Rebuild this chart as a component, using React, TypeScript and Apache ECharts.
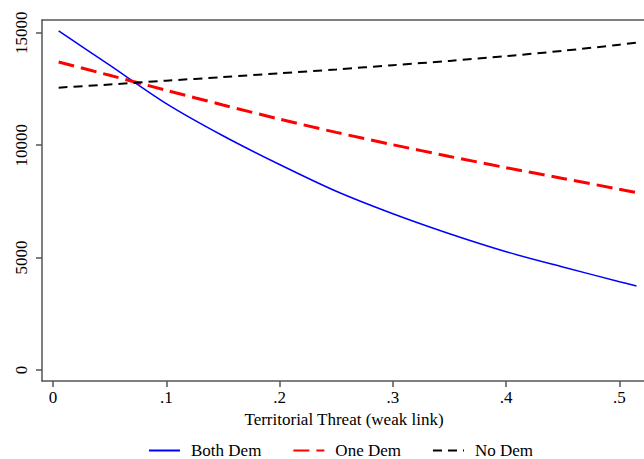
import React, { useEffect, useRef } from "react";
import * as echarts from "echarts";

const threat = [0.005, 0.05, 0.1, 0.15, 0.2, 0.25, 0.3, 0.35, 0.4, 0.45, 0.5, 0.515];
const bothDem = [15090, 13560, 11850, 10420, 9140, 7950, 6950, 6060, 5260, 4580, 3930, 3740];
const oneDem = [13700, 13110, 12440, 11790, 11160, 10570, 10020, 9500, 9000, 8520, 8040, 7890];
const noDem = [12560, 12700, 12870, 13030, 13200, 13370, 13560, 13750, 13960, 14200, 14470, 14560];
const xTicks = [0, 0.1, 0.2, 0.3, 0.4, 0.5];
const yTicks = [0, 5000, 10000, 15000];

const FONT = "'Liberation Serif', 'Times New Roman', serif";
const AXIS = "#555555";

export default function App() {
  const ref = useRef<HTMLDivElement>(null);
  useEffect(() => {
    if (!ref.current) return;
    const chart = echarts.init(ref.current, undefined, { renderer: "svg" });
    const pairs = (ys: number[]) => threat.map((x, i) => [x, ys[i]]);
    chart.setOption({
      animation: false,
      backgroundColor: "#ffffff",
      textStyle: { fontFamily: FONT },
      grid: { left: 42, top: 20, right: -2, bottom: 78, outerBoundsMode: "none", containLabel: false },
      legend: {
        bottom: 0,
        left: 148,
        padding: 0,
        itemWidth: 31,
        itemHeight: 12,
        itemGap: 31,
        itemStyle: { opacity: 0 },
        textStyle: { fontFamily: FONT, fontSize: 17, lineHeight: 16, color: "#000", padding: [0, 0, 0, 6] },
        data: ["Both Dem", "One Dem", "No Dem"],
      },
      xAxis: [
        {
          type: "value",
          min: -0.0097,
          max: 0.5234,
          splitLine: { show: false },
          axisLine: { show: true, onZero: false, lineStyle: { color: AXIS, width: 1.5 } },
          axisTick: { show: true, length: 6, customValues: xTicks, lineStyle: { color: AXIS, width: 1.5 } },
          axisLabel: {
            customValues: xTicks,
            margin: 8,
            fontSize: 17,
            color: "#000",
            fontFamily: FONT,
            formatter: (v: number) => (v === 0 ? "0" : String(Number(v.toFixed(1))).replace(/^0/, "")),
          },
          name: "Territorial Threat (weak link)",
          nameLocation: "middle",
          nameGap: 23,
          nameTextStyle: { fontSize: 17, color: "#000", fontFamily: FONT, verticalAlign: "top" },
        },
        {
          type: "value",
          position: "top",
          min: -0.0097,
          max: 0.5234,
          splitLine: { show: false },
          axisLine: { show: true, onZero: false, lineStyle: { color: AXIS, width: 1.5 } },
          axisTick: { show: false },
          axisLabel: { show: false },
        },
      ],
      yAxis: {
        type: "value",
        min: -489,
        max: 15569,
        splitLine: { show: false },
        axisLine: { show: true, onZero: false, lineStyle: { color: AXIS, width: 1.5 } },
        axisTick: { show: true, length: 6, customValues: yTicks, lineStyle: { color: AXIS, width: 1.5 } },
        axisLabel: { show: false },
      },
      series: [
        {
          name: "Both Dem",
          type: "line",
          data: pairs(bothDem),
          smooth: 0.3,
          symbol: "none",
          color: "#0000ff",
          lineStyle: { color: "#0000ff", width: 1.5, type: "solid" },
        },
        {
          name: "One Dem",
          type: "line",
          data: pairs(oneDem),
          smooth: 0.3,
          symbol: "none",
          color: "#ff0000",
          lineStyle: { color: "#ff0000", width: 3, type: [16, 7] },
        },
        {
          name: "No Dem",
          type: "line",
          data: pairs(noDem),
          smooth: 0.3,
          symbol: "none",
          color: "#000000",
          lineStyle: { color: "#000000", width: 2, type: [9, 6] },
        },
      ],
    });
    // Rotated y-axis tick labels, placed through the y axis scale
    const labels = yTicks.map((v) => {
      const py = chart.convertToPixel({ yAxisIndex: 0 }, v) as number;
      return {
        type: "text",
        x: 21,
        y: py,
        rotation: Math.PI / 2,
        style: {
          text: String(v),
          font: `17px ${FONT}`,
          fill: "#000",
          align: "center",
          verticalAlign: "middle",
        },
      };
    });
    chart.setOption({ graphic: labels });
    return () => chart.dispose();
  }, []);
  return <div ref={ref} style={{ width: 644, height: 459, position: "absolute", left: 0, top: 0 }} />;
}
